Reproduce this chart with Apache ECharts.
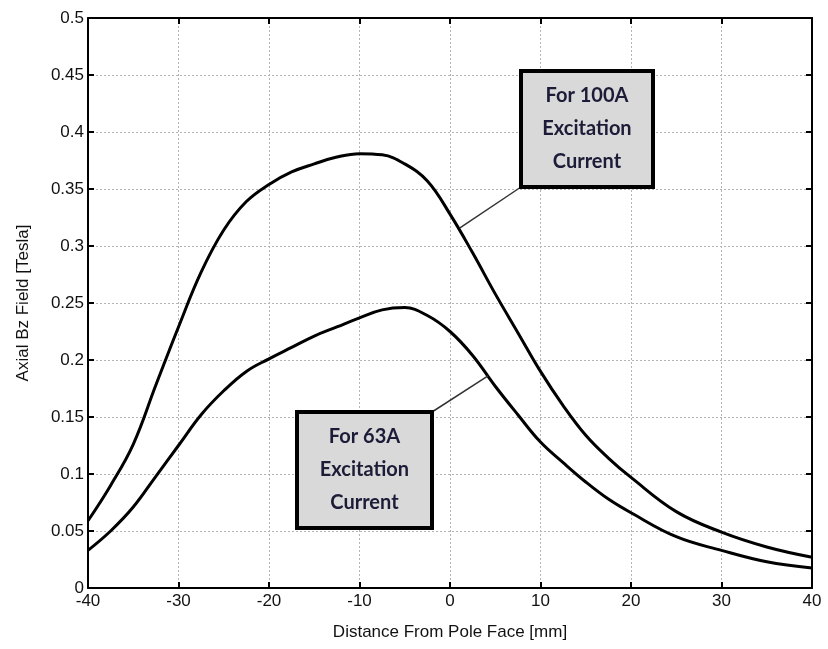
<!DOCTYPE html>
<html>
<head>
<meta charset="utf-8">
<script src="https://cdn.jsdelivr.net/npm/echarts@6/dist/echarts.min.js"></script>
<style>
  html, body { margin: 0; padding: 0; background: #fff; }
  #chart { width: 828px; height: 649px; }
</style>
</head>
<body>
<div id="chart"></div>
<script>
// distance from pole face [mm]
const distance = [-40, -37.5, -35, -32.5, -30, -27.5, -25, -22.5, -20, -17.5, -15, -12.5, -10, -7.5, -5, -2.5,
  0, 2.5, 5, 7.5, 10, 12.5, 15, 17.5, 20, 25, 30, 35, 40];
// axial Bz field [Tesla]
const field100A = [0.059, 0.090, 0.126, 0.178, 0.229, 0.277, 0.314, 0.339, 0.354, 0.365, 0.372, 0.378, 0.381, 0.380, 0.372, 0.357,
  0.328, 0.294, 0.258, 0.224, 0.190, 0.160, 0.134, 0.114, 0.097, 0.067, 0.049, 0.036, 0.027];
const field63A = [0.033, 0.050, 0.071, 0.098, 0.125, 0.152, 0.173, 0.190, 0.201, 0.211, 0.221, 0.229, 0.237, 0.244, 0.246, 0.239,
  0.225, 0.204, 0.177, 0.152, 0.128, 0.110, 0.093, 0.078, 0.066, 0.045, 0.033, 0.023, 0.0175];

// callout labels and the curve point each one points at
const labels = [
  { text: "For 100A\nExcitation\nCurrent", anchor: [1.1, 0.316] },
  { text: "For 63A\nExcitation\nCurrent", anchor: [4.2, 0.186] },
];

const chart = echarts.init(document.getElementById("chart"));
const font = "Liberation Sans, Arial, sans-serif";
const grid = { color: "#b4b4b4", type: [2, 2], width: 1 };

const pairs = (ys) => distance.map((x, i) => [x, ys[i]]);

const option = {
  animation: false,
  grid: { left: 88, right: 16, top: 18, bottom: 61 },
  xAxis: [
    {
      type: "value", min: -40, max: 40, interval: 10,
      name: "Distance From Pole Face [mm]", nameLocation: "middle", nameGap: 36,
      nameTextStyle: { fontFamily: font, fontSize: 17, color: "#111" },
      axisLine: { onZero: false, lineStyle: { color: "#000", width: 2 } },
      axisTick: { inside: true, length: 6, lineStyle: { color: "#000", width: 2 } },
      axisLabel: { fontFamily: font, fontSize: 17, color: "#111", margin: 5 },
      splitLine: { show: true, lineStyle: grid },
    },
    {
      type: "value", position: "top", min: -40, max: 40, interval: 10,
      axisLine: { onZero: false, lineStyle: { color: "#000", width: 2 } },
      axisTick: { inside: true, length: 6, lineStyle: { color: "#000", width: 2 } },
      axisLabel: { show: false }, splitLine: { show: false },
    },
  ],
  yAxis: [
    {
      type: "value", min: 0, max: 0.5, interval: 0.05,
      name: "Axial Bz Field [Tesla]", nameLocation: "middle", nameGap: 56,
      nameTextStyle: { fontFamily: font, fontSize: 17, color: "#111" },
      axisLine: { onZero: false, lineStyle: { color: "#000", width: 2 } },
      axisTick: { inside: true, length: 6, lineStyle: { color: "#000", width: 2 } },
      axisLabel: { fontFamily: font, fontSize: 17, color: "#111", margin: 4 },
      splitLine: { show: true, lineStyle: grid },
    },
    {
      type: "value", position: "right", min: 0, max: 0.5, interval: 0.05,
      axisLine: { onZero: false, lineStyle: { color: "#000", width: 2 } },
      axisTick: { inside: true, length: 6, lineStyle: { color: "#000", width: 2 } },
      axisLabel: { show: false }, splitLine: { show: false },
    },
  ],
  series: [
    {
      name: "100A", type: "line", data: pairs(field100A), smooth: 0.4,
      showSymbol: false, lineStyle: { color: "#000", width: 3 },
    },
    {
      name: "63A", type: "line", data: pairs(field63A), smooth: 0.4,
      showSymbol: false, lineStyle: { color: "#000", width: 3 },
    },
  ],
};
chart.setOption(option);

// boxes: [left, top, width, height] in px, leader starts from a box corner
const boxes = [
  { rect: [521, 71, 132, 116], corner: [521, 187] },
  { rect: [297, 412, 135, 116], corner: [432, 412] },
];
const graphic = [];
labels.forEach((lab, i) => {
  const b = boxes[i];
  const p = chart.convertToPixel({ xAxisIndex: 0, yAxisIndex: 0 }, lab.anchor);
  graphic.push({
    type: "line", z: 10,
    shape: { x1: b.corner[0], y1: b.corner[1], x2: p[0], y2: p[1] },
    style: { stroke: "#333", lineWidth: 1.5 },
  });
  graphic.push({
    type: "rect", z: 11,
    shape: { x: b.rect[0], y: b.rect[1], width: b.rect[2], height: b.rect[3] },
    style: { fill: "#d9d9d9", stroke: "#000", lineWidth: 4 },
  });
  graphic.push({
    type: "text", z: 12,
    x: b.rect[0] + b.rect[2] / 2, y: b.rect[1] + b.rect[3] / 2,
    style: {
      text: lab.text, fontFamily: "Lato, Open Sans, sans-serif", fontWeight: "bold",
      fontSize: 20, lineHeight: 33, fill: "#1c1c38", align: "center", verticalAlign: "middle",
    },
  });
});
chart.setOption({ graphic: graphic });
</script>
</body>
</html>
